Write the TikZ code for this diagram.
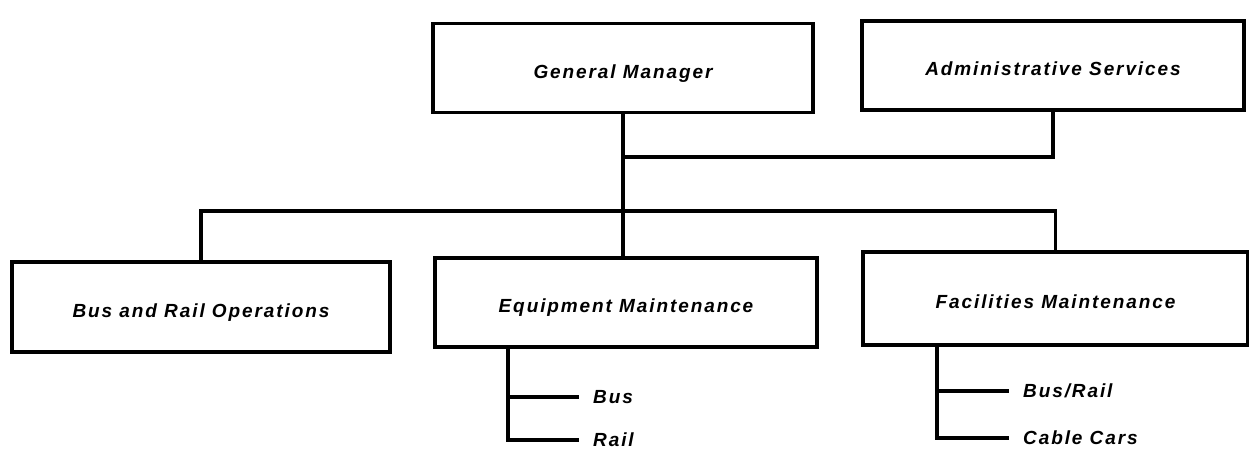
\documentclass[tikz,border=0pt]{standalone}
\usepackage{fontspec}
\setmainfont{Liberation Sans}[LetterSpace=10]
\usetikzlibrary{positioning}
\newcommand{\orgfont}{\fontsize{19}{22}\selectfont\bfseries\itshape}
\tikzset{
  unit/.style={
    draw=black, line width=3.2pt,
    minimum width=380pt, minimum height=89pt,
    inner sep=0pt, text height=20pt, text depth=0pt, font=\orgfont
  },
  link/.style={draw=black, line width=3.2pt, line cap=rect},
  sub/.style={anchor=west, inner xsep=16pt, inner ysep=0pt, font=\orgfont}
}

\begin{document}
\begin{tikzpicture}[x=1pt, y=-1pt]
  \useasboundingbox (0,0) rectangle (1249,459);
  % top row
  \node[unit] (gm) at (623,68) {General Manager};
  \node[unit, minimum width=382pt] (adm) at (1053,65.5) {Administrative Services};
  % divisions
  \node[unit, minimum width=378pt, minimum height=90pt] (bro) at (201,307) {Bus and Rail Operations};
  \node[unit, minimum width=382pt] (em) at (626,302.5) {Equipment Maintenance};
  \node[unit, minimum width=385pt, minimum height=93pt] (fm) at (1055.5,298.5) {Facilities Maintenance};
  % sections
  \node[sub] (embus) at (577,397) {Bus};
  \node[sub] (emrail) at (577,440) {Rail};
  \node[sub] (fmbus) at (1007,391) {Bus/Rail};
  \node[sub] (fmcable) at (1007,438) {Cable Cars};
  \coordinate (tap) at (623,157);
  \coordinate (bar) at (623,211);
  \coordinate (emstem) at (508,347);
  \coordinate (fmstem) at (937,345);
  % lines
  \draw[link] (gm.south) -- (gm.south |- em.north);
  \draw[link] (adm.south) |- (tap);
  \draw[link] (bro.north) |- (bar) -| (fm.north);
  \draw[link] (emstem) |- (emrail.west);
  \draw[link] (emstem |- embus.west) -- (embus.west);
  \draw[link] (fmstem) |- (fmcable.west);
  \draw[link] (fmstem |- fmbus.west) -- (fmbus.west);
\end{tikzpicture}
\end{document}
